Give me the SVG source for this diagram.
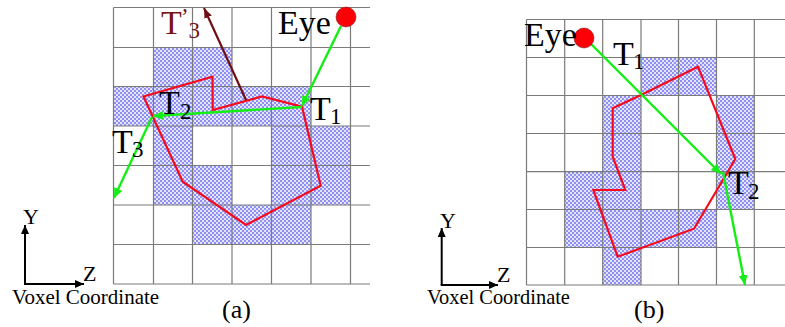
<svg xmlns="http://www.w3.org/2000/svg" width="785" height="327" viewBox="0 0 785 327">
<style>
text{font-family:"Liberation Serif","Times New Roman",serif;fill:#000}
.big{font-size:34px}.sub{font-size:23px}.ax{font-size:22px}.cap{font-size:21px}.lab{font-size:26px}
.dk{fill:#7a1414}
.grid{stroke:#7b7b7b;stroke-width:1.2;fill:none}
.cell{fill:url(#chk);stroke:none}
.poly{fill:none;stroke:#f50a1e;stroke-width:2.2;stroke-linejoin:miter}
.g{fill:none;stroke:#14ee14;stroke-width:2.4}
.d{fill:none;stroke:#6e0f14;stroke-width:2.2}
.k{fill:none;stroke:#000;stroke-width:2}
.eye{fill:#fb0007;stroke:#8a2020;stroke-width:.6}
</style>
<defs>
<pattern id="chk" width="4" height="4" patternUnits="userSpaceOnUse">
<rect width="4" height="4" fill="#e4e4ff"/>
<rect width="2" height="2" fill="#9090f0"/>
<rect x="2" y="2" width="2" height="2" fill="#9090f0"/>
</pattern>
<marker id="mg" markerUnits="userSpaceOnUse" markerWidth="12" markerHeight="10" refX="10" refY="4.5" orient="auto"><path d="M0 0L10 4.5L0 9z" fill="#14ee14"/></marker>
<marker id="md" markerUnits="userSpaceOnUse" markerWidth="12" markerHeight="10" refX="10" refY="4" orient="auto"><path d="M0 0L10 4L0 8z" fill="#6e0f14"/></marker>
<marker id="mk" markerUnits="userSpaceOnUse" markerWidth="12" markerHeight="10" refX="9" refY="4" orient="auto"><path d="M0 0L9 4L0 8z" fill="#000"/></marker>
</defs>

<g id="panel-a-cells">
<rect class="cell" x="153.5" y="47.5" width="78.5" height="39"/>
<rect class="cell" x="113.5" y="86.5" width="197.5" height="39.5"/>
<rect class="cell" x="153.5" y="126" width="39" height="39.5"/>
<rect class="cell" x="271.5" y="126" width="79" height="39.5"/>
<rect class="cell" x="153.5" y="165.5" width="78.5" height="39.5"/>
<rect class="cell" x="271.5" y="165.5" width="79" height="39.5"/>
<rect class="cell" x="192.5" y="205" width="118.5" height="39.5"/>
</g>
<g id="panel-a-grid">
<path class="grid" d="M113.5 7.5H370M113.5 47.5H370M113.5 86.5H370M113.5 126H370M113.5 165.5H370M113.5 205H370M113.5 244.5H370M113.5 284H370"/>
<path class="grid" d="M113.5 7.5V284M153.5 7.5V284M192.5 7.5V284M232 7.5V284M271.5 7.5V284M311 7.5V284M350.5 7.5V284"/>
</g>
<g id="panel-b-cells">
<rect class="cell" x="641" y="57.5" width="75.5" height="38"/>
<rect class="cell" x="602.7" y="95.5" width="38.3" height="76.2"/>
<rect class="cell" x="716.5" y="95.5" width="37.7" height="114"/>
<rect class="cell" x="564.7" y="171.7" width="76.3" height="37.8"/>
<rect class="cell" x="564.7" y="209.5" width="151.8" height="38"/>
<rect class="cell" x="602.7" y="247.5" width="38.3" height="37.5"/>
</g>
<g id="panel-b-grid">
<path class="grid" d="M526.5 19.5H785M526.5 57.5H785M526.5 95.5H785M526.5 133.5H785M526.5 171.7H785M526.5 209.5H785M526.5 247.5H785M526.5 285H785"/>
<path class="grid" d="M526.5 19.5V285M564.7 19.5V285M602.7 19.5V285M641 19.5V285M678.5 19.5V285M716.5 19.5V285M754.3 19.5V285"/>
</g>

<g id="polygon-a"><path class="poly" d="M143.5 96.5L212.5 76.7L212.7 110L262 96.5L302 106.7L320.7 185.7L246 225L182.7 181.7Z"/></g>
<g id="polygon-b"><path class="poly" d="M698 66.7L641 95L612.7 108.3V156.7L625.3 190H593.3L617.7 256.7L694 228.7L735.3 159Z"/></g>

<g id="connectors">
<path class="g" d="M341 26L302 106" marker-end="url(#mg)"/>
<path class="g" d="M302 107L153 116" marker-end="url(#mg)"/>
<path class="g" d="M152 117L114 198" marker-end="url(#mg)"/>
<path class="d" d="M246 100L204 8" marker-end="url(#md)"/>
<path class="g" d="M591 44L721 174" marker-end="url(#mg)"/>
<path class="g" d="M723 172L745 285" marker-end="url(#mg)"/>
<path class="k" d="M25 284V225" marker-end="url(#mk)"/>
<path class="k" d="M24 284H84" marker-end="url(#mk)"/>
<path class="k" d="M441.7 285V228" marker-end="url(#mk)"/>
<path class="k" d="M440.7 285H498" marker-end="url(#mk)"/>
</g>

<g id="eye-a"><circle class="eye" cx="346" cy="17" r="10"/><text class="big" x="278" y="34">Eye</text></g>
<g id="eye-b"><circle class="eye" cx="584" cy="38" r="10"/><text class="big" x="524" y="46">Eye</text></g>
<g id="labels-a">
<text class="big" x="310" y="120">T</text><text class="sub" x="330" y="124">1</text>
<text class="big" x="159" y="114">T</text><text class="sub" x="180" y="118.5">2</text>
<text class="big" x="112" y="153">T</text><text class="sub" x="132" y="157">3</text>
<text class="big dk" x="161" y="34">T</text><text class="sub dk" x="181" y="24">’</text><text class="sub dk" x="188.5" y="38">3</text>
<text class="ax" x="23" y="224">Y</text><text class="ax" x="83" y="281">Z</text>
<text class="cap" x="12" y="304">Voxel Coordinate</text>
<text class="lab" x="222" y="318">(a)</text>
</g>
<g id="labels-b">
<text class="big" x="613" y="65">T</text><text class="sub" x="633" y="69">1</text>
<text class="big" x="728" y="194">T</text><text class="sub" x="748" y="199">2</text>
<text class="ax" x="440" y="228">Y</text><text class="ax" x="497" y="282">Z</text>
<text class="cap" x="427" y="304" style="font-size:20.4px">Voxel Coordinate</text>
<text class="lab" x="634" y="318">(b)</text>
</g>
</svg>
